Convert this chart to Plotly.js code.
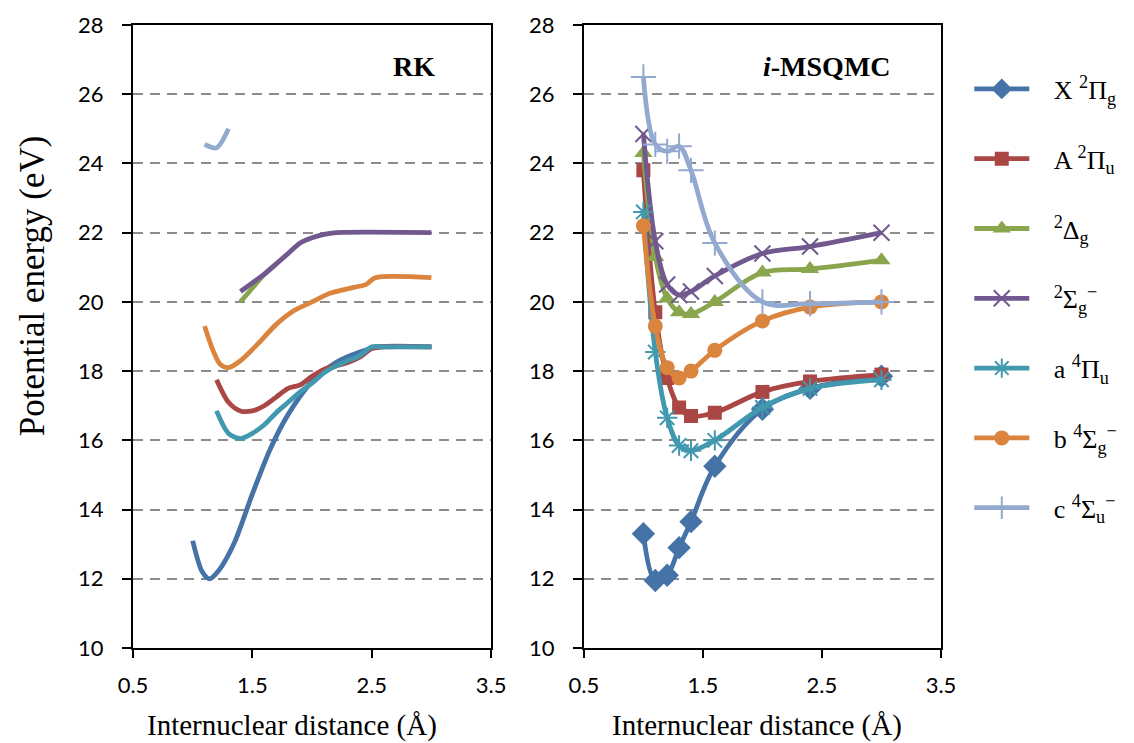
<!DOCTYPE html>
<html>
<head>
<meta charset="utf-8">
<script src="https://cdn.plot.ly/plotly-3.0.1.min.js"></script>
<style>html,body{margin:0;padding:0;background:#fff;}#chart{width:1134px;height:743px;}</style>
</head>
<body>
<div id="chart"></div>
<script>
// ---------- RK panel (left) ----------
const rkX_x   = [1.0, 1.08, 1.14, 1.22, 1.35, 1.5, 1.65, 1.8, 2.0, 2.2, 2.4, 2.55, 3.0];
const rkX_y   = [13.1, 12.2, 12.0, 12.25, 13.05, 14.45, 15.75, 16.75, 17.7, 18.25, 18.55, 18.7, 18.7];
const rkA_x   = [1.2, 1.3, 1.4, 1.5, 1.6, 1.7, 1.8, 1.9, 2.0, 2.1, 2.2, 2.3, 2.4, 2.5, 2.6, 3.0];
const rkA_y   = [17.75, 17.1, 16.85, 16.85, 17.0, 17.25, 17.5, 17.6, 17.85, 18.05, 18.15, 18.25, 18.4, 18.65, 18.7, 18.7];
const rkD_x   = [1.4, 1.5, 1.6, 1.7];
const rkD_y   = [20.0, 20.4, 20.8, 21.1];
const rkS_x   = [1.4, 1.5, 1.6, 1.7, 1.8, 1.9, 2.0, 2.1, 2.2, 3.0];
const rkS_y   = [20.3, 20.55, 20.8, 21.1, 21.4, 21.7, 21.85, 21.95, 22.0, 22.0];
const rka_x   = [1.2, 1.3, 1.4, 1.5, 1.6, 1.7, 1.8, 1.9, 2.0, 2.1, 2.2, 2.3, 2.4, 2.5, 2.6, 3.0];
const rka_y   = [16.85, 16.2, 16.05, 16.2, 16.45, 16.8, 17.1, 17.4, 17.65, 17.95, 18.15, 18.3, 18.45, 18.7, 18.7, 18.7];
const rkb_x   = [1.1, 1.17, 1.23, 1.3, 1.4, 1.55, 1.7, 1.85, 2.0, 2.15, 2.35, 2.45, 2.53, 3.0];
const rkb_y   = [19.3, 18.6, 18.2, 18.1, 18.3, 18.8, 19.35, 19.75, 20.0, 20.25, 20.42, 20.5, 20.7, 20.7];
const rkc_x   = [1.1, 1.2, 1.3];
const rkc_y   = [24.55, 24.45, 25.0];

// ---------- i-MSQMC panel (right) ----------
const mqX = [1.0, 1.1, 1.2, 1.3, 1.4, 1.6, 2.0, 2.4, 3.0];
const mq_X2Pg  = [13.3, 11.95, 12.1, 12.9, 13.65, 15.25, 16.9, 17.5, 17.85];
const mq_A2Pu  = [23.8, 19.7, 17.8, 16.95, 16.7, 16.8, 17.4, 17.7, 17.9];
const mq_2Dg   = [24.3, 21.3, 20.1, 19.7, 19.65, 20.0, 20.85, 20.95, 21.2];
const mq_2Sg   = [24.85, 21.75, 20.5, 20.2, 20.3, 20.75, 21.4, 21.6, 22.0];
const mq_a4Pu  = [22.6, 18.55, 16.65, 15.85, 15.7, 16.0, 16.95, 17.5, 17.75];
const mq_b4Sg  = [22.2, 19.3, 18.1, 17.8, 18.0, 18.6, 19.45, 19.85, 20.0];
const mq_c4Su  = [26.5, 24.55, 24.35, 24.5, 23.8, 21.7, 20.0, 19.95, 20.0];

const pad = '\u00A0\u00A0\u00A0';
const names = [
  pad + 'X <sup>2</sup>Π<sub>g</sub>',
  pad + 'A <sup>2</sup>Π<sub>u</sub>',
  pad + '<sup>2</sup>Δ<sub>g</sub>',
  pad + '<sup>2</sup>Σ<sub>g</sub><sup>−</sup>',
  pad + 'a <sup>4</sup>Π<sub>u</sub>',
  pad + 'b <sup>4</sup>Σ<sub>g</sub><sup>−</sup>',
  pad + 'c <sup>4</sup>Σ<sub>u</sub><sup>−</sup>'
];
const yTicks = [10, 12, 14, 16, 18, 20, 22, 24, 26, 28];
const xTicks = [0.5, 1.5, 2.5, 3.5];

const colors = ['#4572A7', '#AA4643', '#89A54E', '#71588F', '#4198AF', '#DB843D', '#93A9CF'];
const markers = [
  {symbol: 'diamond', size: 18},
  {symbol: 'square', size: 14},
  {symbol: 'triangle-up', size: 16},
  {symbol: 'x-thin-open', size: 16, line: {width: 2}},
  {symbol: 'asterisk-open', size: 17, line: {width: 2}},
  {symbol: 'circle', size: 15},
  {symbol: 'cross-thin-open', size: 18, line: {width: 2}}
];

const rkSets = [[rkX_x, rkX_y], [rkA_x, rkA_y], [rkD_x, rkD_y], [rkS_x, rkS_y], [rka_x, rka_y], [rkb_x, rkb_y], [rkc_x, rkc_y]];
const mqSets = [mq_X2Pg, mq_A2Pu, mq_2Dg, mq_2Sg, mq_a4Pu, mq_b4Sg, mq_c4Su];

const traces = [];
rkSets.forEach((s, i) => {
  traces.push({
    x: s[0], y: s[1], xaxis: 'x', yaxis: 'y', mode: 'lines', showlegend: false,
    line: {color: colors[i], width: 4.8, shape: 'spline', smoothing: 0.8},
    hoverinfo: 'skip'
  });
});
mqSets.forEach((ys, i) => {
  const m = Object.assign({color: colors[i]}, markers[i]);
  if (m.line) m.line = Object.assign({color: colors[i]}, m.line);
  traces.push({
    x: mqX, y: ys, xaxis: 'x2', yaxis: 'y2', mode: 'lines+markers', name: names[i],
    legendgroup: 'g' + i,
    line: {color: colors[i], width: 4.8, shape: 'spline', smoothing: 1},
    marker: m
  });
});

const tickFont = {family: 'Lato, "Open Sans", sans-serif', size: 22, color: '#000'};
const serif = '"Liberation Serif", "DejaVu Serif", serif';

function xAxis(domain, anchor) {
  return {
    domain: domain, anchor: anchor, range: [0.5, 3.5], tickvals: xTicks, ticktext: xTicks.map(v => v.toFixed(1)),
    showgrid: false, zeroline: false, showline: true, linecolor: '#000', linewidth: 2, mirror: true,
    ticks: 'outside', ticklen: 8, tickwidth: 1.5, tickcolor: '#000', tickfont: tickFont, ticklabelstandoff: 9
  };
}
function yAxis(anchor) {
  return {
    anchor: anchor, range: [10, 28], tickvals: yTicks, ticktext: yTicks.map(String),
    showgrid: true, gridcolor: '#8c8c8c', gridwidth: 2, griddash: '10px,7px',
    zeroline: false, showline: true, linecolor: '#000', linewidth: 2, mirror: true,
    ticks: 'outside', ticklen: 9, tickwidth: 1.5, tickcolor: '#000', tickfont: tickFont, ticklabelstandoff: 14
  };
}

const layout = {
  width: 1134, height: 743,
  margin: {l: 133, r: 191, t: 25, b: 95, pad: 0},
  paper_bgcolor: '#fff', plot_bgcolor: '#fff',
  font: {family: serif, color: '#000'},
  xaxis: xAxis([0, 0.4432], 'y'),
  yaxis: yAxis('x'),
  xaxis2: xAxis([0.558, 1], 'y2'),
  yaxis2: yAxis('x2'),
  showlegend: true,
  legend: {
    x: 1.035, y: 0.935, xanchor: 'left', yanchor: 'top',
    font: {family: serif, size: 26, color: '#000'},
    tracegroupgap: 33, itemwidth: 55, bgcolor: 'rgba(0,0,0,0)'
  },
  annotations: [
    {text: '<b>RK</b>', xref: 'x', yref: 'y', x: 3.05, y: 26.8, xanchor: 'right', yanchor: 'middle', showarrow: false,
     font: {family: serif, size: 28, color: '#000'}},
    {text: '<b><i>i</i>-MSQMC</b>', xref: 'x2', yref: 'y2', x: 3.1, y: 26.8, xanchor: 'right', yanchor: 'middle', showarrow: false,
     font: {family: serif, size: 28, color: '#000'}},
    {text: 'Internuclear distance (Å)', xref: 'paper', yref: 'paper', x: (292 - 133) / 810, y: -0.1236, xanchor: 'center', yanchor: 'middle', showarrow: false,
     font: {family: serif, size: 29, color: '#000'}},
    {text: 'Internuclear distance (Å)', xref: 'paper', yref: 'paper', x: (759 - 133) / 810, y: -0.1236, xanchor: 'center', yanchor: 'middle', showarrow: false,
     font: {family: serif, size: 29, color: '#000'}},
    {text: 'Potential energy (eV)', xref: 'paper', yref: 'paper', x: (32 - 133) / 810, y: 0.581, xanchor: 'center', yanchor: 'middle', showarrow: false, textangle: -90,
     font: {family: serif, size: 35, color: '#000'}}
  ]
};

Plotly.newPlot('chart', traces, layout, {displayModeBar: false, responsive: false});
</script>
</body>
</html>
